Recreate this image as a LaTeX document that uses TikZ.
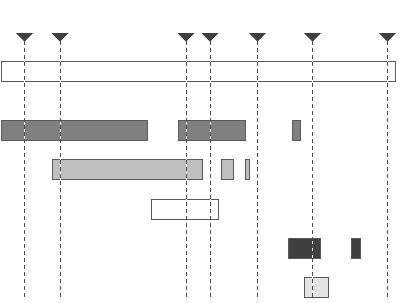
\documentclass[tikz,border=0pt]{standalone}
\begin{document}
\begin{tikzpicture}[x=1pt,y=-1pt,
  bar/.style={draw=black!65,line width=0.9pt},
  marker/.style={fill=black!75,draw=none},
  guide/.style={draw=black!70,line width=0.8pt,dash pattern=on 4pt off 3pt},
  guidebg/.style={draw=white,line width=0.8pt}]
\useasboundingbox (0,0) rectangle (413,303);
% bars
\draw[bar,fill=white] (1,61) rectangle (395,81);
\draw[bar,fill=black!50] (1,120) rectangle (147,140);
\draw[bar,fill=black!50] (178,120) rectangle (245.5,140);
\draw[bar,fill=black!50] (292.5,120) rectangle (300.5,140);
\draw[bar,fill=black!25] (52.5,159.5) rectangle (202,179.5);
\draw[bar,fill=black!25] (221.5,159.5) rectangle (233.5,179.5);
\draw[bar,fill=black!25] (245.5,159.5) rectangle (249.5,179.5);
\draw[bar,fill=white] (151,199) rectangle (218,219);
\draw[bar,fill=black!75] (288.5,238.5) rectangle (320.5,258.5);
\draw[bar,fill=black!75] (351.5,238.5) rectangle (360,258.5);
\draw[bar,fill=black!10] (304.5,277.5) rectangle (328.5,297.5);
% guides and markers
\foreach \x in {24.5,60,186,210,257.5,312.5,387.5}{
  \draw[guidebg] (\x,41) -- (\x,297);
  \draw[guide] (\x,41) -- (\x,297);
  \fill[marker] (\x-8.5,33) -- (\x+8.5,33) -- (\x,41.5) -- cycle;
}
\end{tikzpicture}
\end{document}
